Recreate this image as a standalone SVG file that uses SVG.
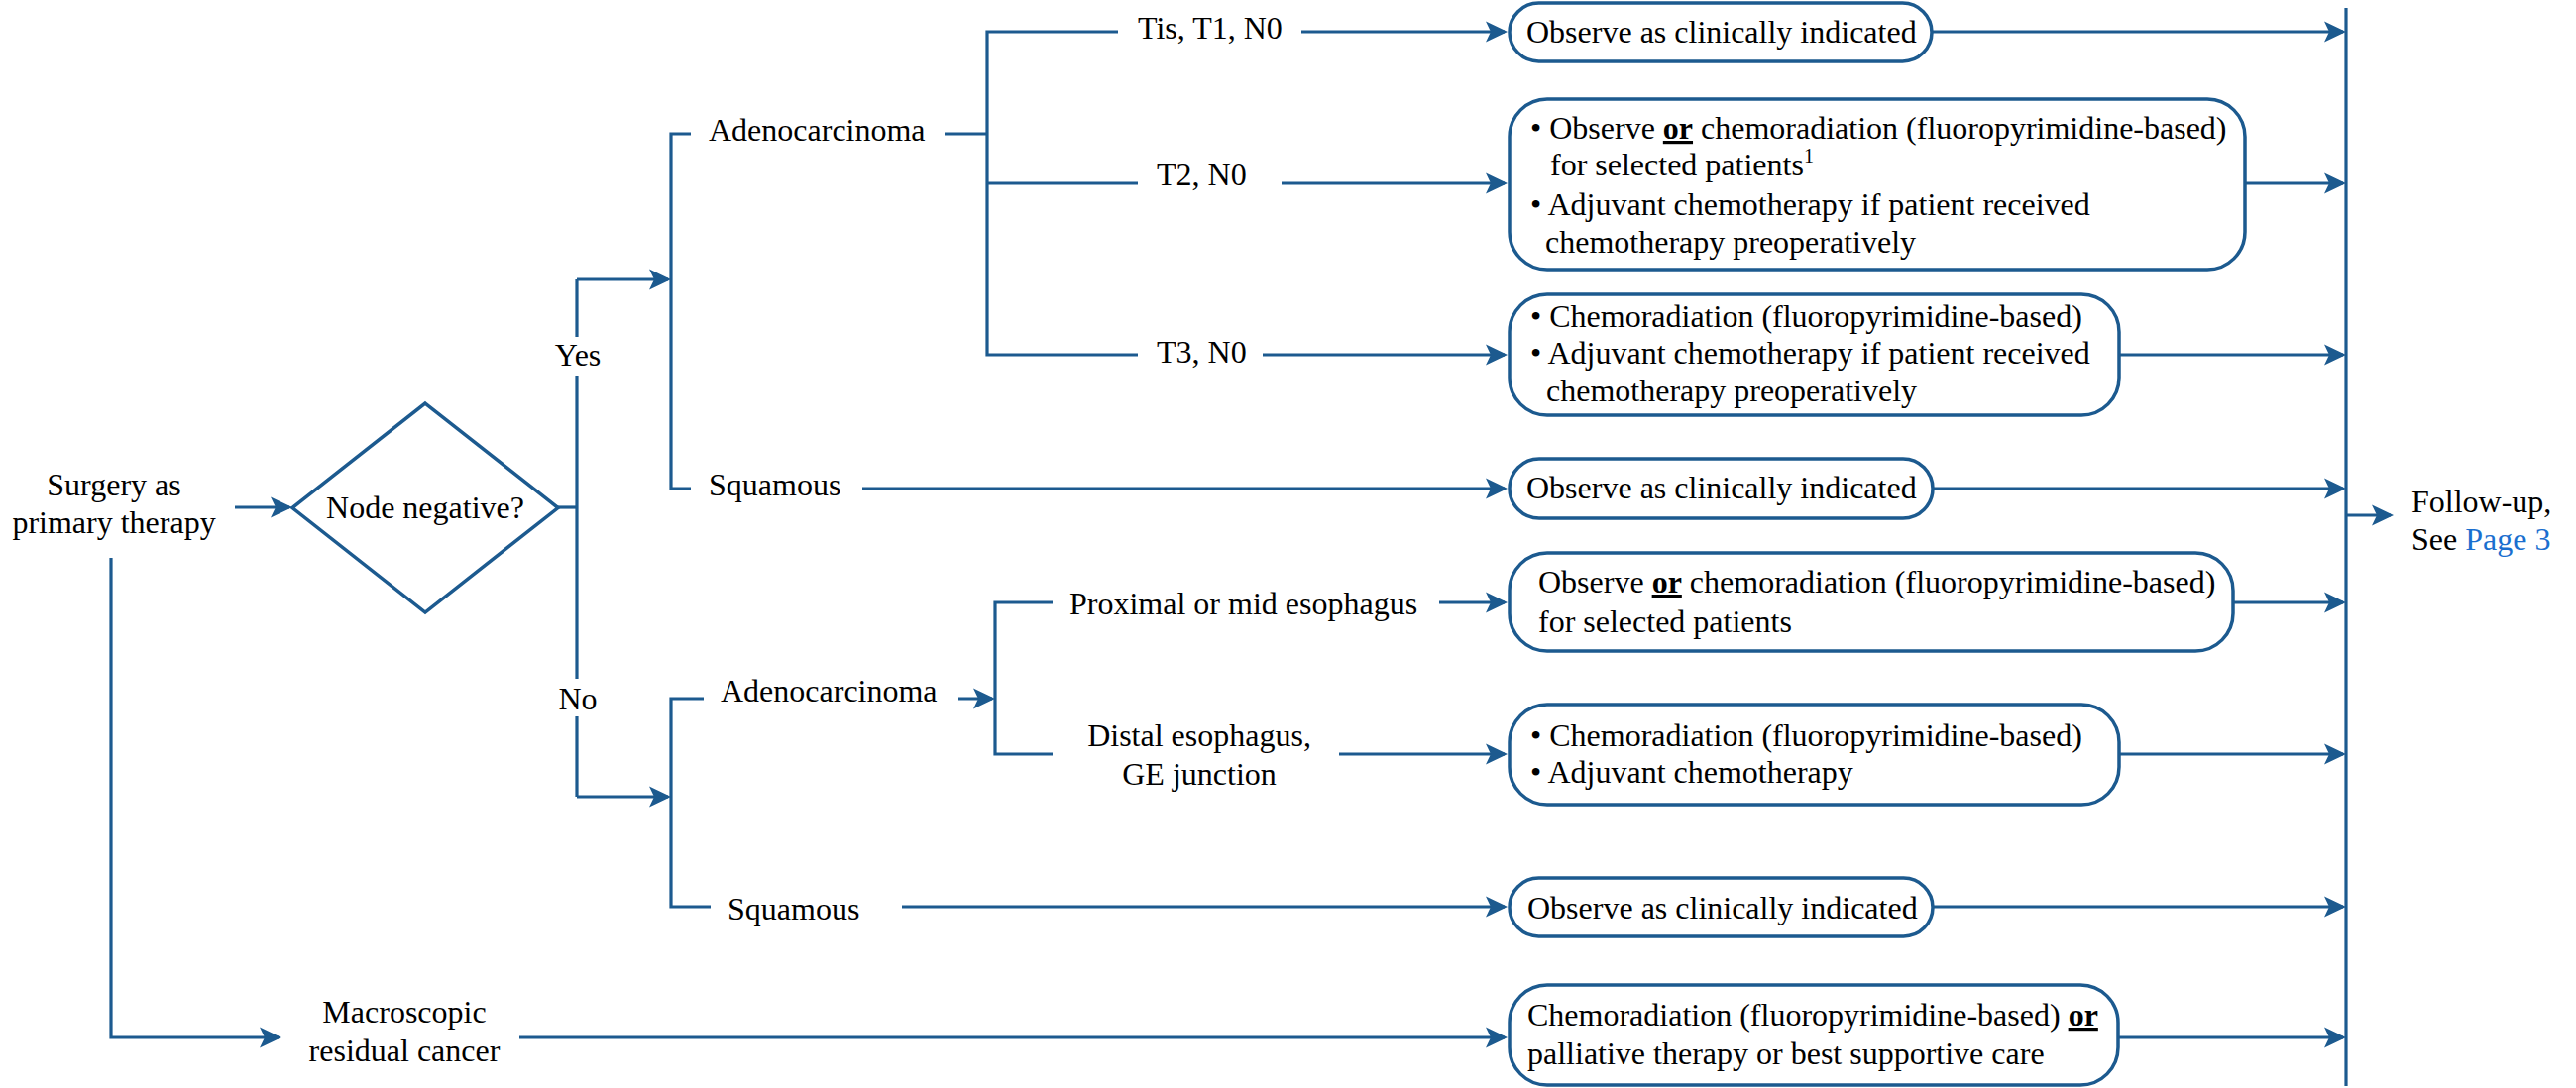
<svg xmlns="http://www.w3.org/2000/svg" width="2599" height="1098" viewBox="0 0 2599 1098">
<style>
text{font-family:"Liberation Serif","Times New Roman",serif;font-size:32px;fill:#000}
.c{text-anchor:middle}
.ln{fill:none;stroke:#1c5a8f;stroke-width:3.2}
.ar{fill:none;stroke:#1c5a8f;stroke-width:3.2;marker-end:url(#ah)}
.bx{fill:#fff;stroke:#1c5a8f;stroke-width:3.5}
.b{font-weight:bold;text-decoration:underline}
.lk{fill:#1a6fcf}
</style>
<defs>
<marker id="ah" viewBox="-22 -11 22 22" refX="-3" refY="0" markerWidth="22" markerHeight="22" markerUnits="userSpaceOnUse" orient="auto">
<path d="M0,0 L-22,-10.5 L-17,0 L-22,10.5 Z" fill="#1c5a8f"/>
</marker>
</defs>
<rect width="2599" height="1098" fill="#fff"/>
<g id="connectors">
<path class="ar" d="M237,512 H292"/>
<path class="ar" d="M112,563 V1047 H281"/>
<path class="ln" d="M562,512 H582"/>
<path class="ln" d="M582,282 V340 M582,379 V685 M582,723 V804"/>
<path class="ar" d="M582,282 H674"/>
<path class="ar" d="M582,804 H674"/>
<path class="ln" d="M697,135 H677 V493 H697"/>
<path class="ln" d="M953,135 H996"/>
<path class="ln" d="M1128,32 H996 V358 H1148 M996,185 H1148"/>
<path class="ar" d="M1313,32 H1518"/>
<path class="ar" d="M1293,185 H1518"/>
<path class="ar" d="M1274,358 H1518"/>
<path class="ar" d="M870,493 H1518"/>
<path class="ln" d="M710,705 H677 V915 H717"/>
<path class="ar" d="M967,705 H1001"/>
<path class="ln" d="M1062,608 H1004 V761 H1062"/>
<path class="ar" d="M1452,608 H1518"/>
<path class="ar" d="M1351,761 H1518"/>
<path class="ar" d="M910,915 H1518"/>
<path class="ar" d="M524,1047 H1518"/>
<path class="ar" d="M1949,32 H2364"/>
<path class="ar" d="M2265,185 H2364"/>
<path class="ar" d="M2138,358 H2364"/>
<path class="ar" d="M1950,493 H2364"/>
<path class="ar" d="M2253,608 H2364"/>
<path class="ar" d="M2138,761 H2364"/>
<path class="ar" d="M1950,915 H2364"/>
<path class="ar" d="M2137,1047 H2364"/>
<path class="ln" d="M2367,8 V1096"/>
<path class="ar" d="M2367,520 H2412"/>
</g>
<g id="surgery"><text class="c" x="115" y="500">Surgery as</text><text class="c" x="115" y="538">primary therapy</text></g>
<g id="node-negative"><path class="bx" d="M429,407 L563,512.5 L429,618 L295,512.5 Z"/><text class="c" x="429" y="523">Node negative?</text></g>
<g id="yes"><text class="c" x="583" y="369">Yes</text></g>
<g id="no"><text class="c" x="583" y="716">No</text></g>
<g id="adeno-yes"><text x="715" y="142">Adenocarcinoma</text></g>
<g id="squamous-yes"><text x="715" y="500">Squamous</text></g>
<g id="tis"><text x="1148" y="39">Tis, T1, N0</text></g>
<g id="t2"><text x="1167" y="187">T2, N0</text></g>
<g id="t3"><text x="1167" y="366">T3, N0</text></g>
<g id="adeno-no"><text x="727" y="708">Adenocarcinoma</text></g>
<g id="proximal"><text x="1079" y="620">Proximal or mid esophagus</text></g>
<g id="distal"><text class="c" x="1210" y="753">Distal esophagus,</text><text class="c" x="1210" y="792">GE junction</text></g>
<g id="squamous-no"><text x="734" y="928">Squamous</text></g>
<g id="macroscopic"><text class="c" x="408" y="1032">Macroscopic</text><text class="c" x="408" y="1071">residual cancer</text></g>
<g id="box-observe-1"><rect class="bx" x="1523" y="3" width="426" height="59" rx="29.5"/><text x="1540" y="43">Observe as clinically indicated</text></g>
<g id="box-t2"><rect class="bx" x="1523" y="100" width="742" height="172" rx="38"/>
<text x="1544" y="140">• Observe <tspan class="b">or</tspan> chemoradiation (fluoropyrimidine-based)</text>
<text x="1564" y="177">for selected patients<tspan font-size="20" dy="-13">1</tspan></text>
<text x="1544" y="217">• Adjuvant chemotherapy if patient received</text>
<text x="1559" y="255">chemotherapy preoperatively</text></g>
<g id="box-t3"><rect class="bx" x="1523" y="297" width="615" height="122" rx="38"/>
<text x="1544" y="330">• Chemoradiation (fluoropyrimidine-based)</text>
<text x="1544" y="367">• Adjuvant chemotherapy if patient received</text>
<text x="1560" y="405">chemotherapy preoperatively</text></g>
<g id="box-observe-2"><rect class="bx" x="1523" y="463" width="427" height="60" rx="30"/><text x="1540" y="503">Observe as clinically indicated</text></g>
<g id="box-proximal"><rect class="bx" x="1523" y="558" width="730" height="99" rx="38"/>
<text x="1552" y="598">Observe <tspan class="b">or</tspan> chemoradiation (fluoropyrimidine-based)</text>
<text x="1552" y="638">for selected patients</text></g>
<g id="box-distal"><rect class="bx" x="1523" y="711" width="615" height="101" rx="38"/>
<text x="1544" y="753">• Chemoradiation (fluoropyrimidine-based)</text>
<text x="1544" y="790">• Adjuvant chemotherapy</text></g>
<g id="box-observe-3"><rect class="bx" x="1523" y="886" width="427" height="59" rx="29.5"/><text x="1541" y="927">Observe as clinically indicated</text></g>
<g id="box-macro"><rect class="bx" x="1523" y="994" width="614" height="101" rx="38"/>
<text x="1541" y="1035">Chemoradiation (fluoropyrimidine-based) <tspan class="b">or</tspan></text>
<text x="1541" y="1074">palliative therapy or best supportive care</text></g>
<g id="follow-up"><text x="2433" y="517">Follow-up,</text><text x="2433" y="555">See <tspan class="lk">Page 3</tspan></text></g>
</svg>
